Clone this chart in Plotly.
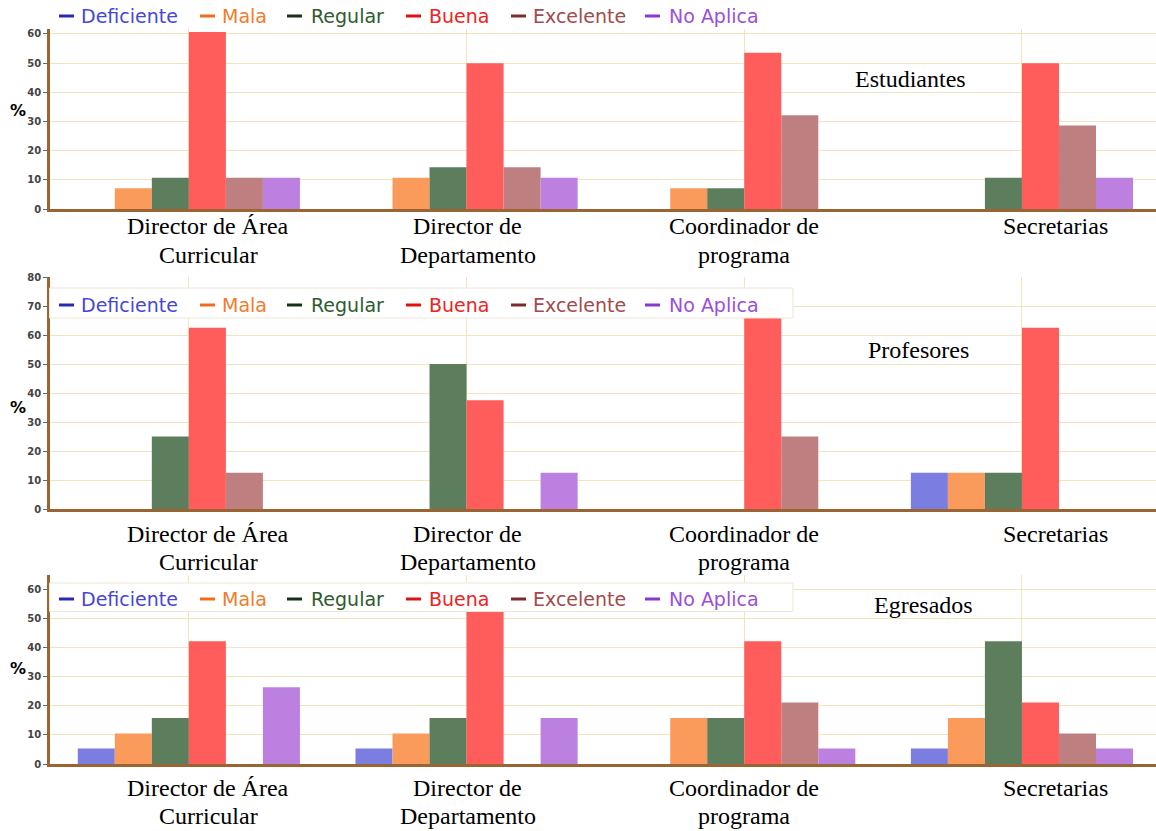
import plotly.graph_objects as go

# ---- data -------------------------------------------------------------
categories = ["Director de Área Curricular", "Director de Departamento",
              "Coordinador de programa", "Secretarias"]
category_labels = ["Director de Área<br>Curricular", "Director de<br>Departamento",
                   "Coordinador de<br>programa", "Secretarias"]
series_names = ["Deficiente", "Mala", "Regular", "Buena", "Excelente", "No Aplica"]
panel_titles = ["Estudiantes", "Profesores", "Egresados"]

# percentages per rating (rows follow series_names, columns follow categories)
estudiantes = [
    [0.0, 0.0, 0.0, 0.0],
    [7.1, 10.7, 7.1, 0.0],
    [10.7, 14.3, 7.1, 10.7],
    [60.7, 50.0, 53.6, 50.0],
    [10.7, 14.3, 32.1, 28.6],
    [10.7, 10.7, 0.0, 10.7],
]
profesores = [
    [0.0, 0.0, 0.0, 12.5],
    [0.0, 0.0, 0.0, 12.5],
    [25.0, 50.0, 0.0, 12.5],
    [62.5, 37.5, 75.0, 62.5],
    [12.5, 0.0, 25.0, 0.0],
    [0.0, 12.5, 0.0, 0.0],
]
egresados = [
    [5.3, 5.3, 0.0, 5.3],
    [10.5, 10.5, 15.8, 15.8],
    [15.8, 15.8, 15.8, 42.1],
    [42.1, 52.6, 42.1, 21.1],
    [0.0, 0.0, 21.1, 10.5],
    [26.3, 15.8, 5.3, 5.3],
]
y_ticks = [[0, 10, 20, 30, 40, 50, 60],
           [0, 10, 20, 30, 40, 50, 60, 70, 80],
           [0, 10, 20, 30, 40, 50, 60]]

# ---- styling ----------------------------------------------------------
W, H = 1156, 831
BAR_COLORS = ["#7b7de0", "#fa9b5b", "#5d7e5d", "#ff5c5c", "#bd7f7f", "#bb80e0"]
LEGEND_TEXT = ["#4646d6", "#f27c2c", "#2e5b2e", "#ee2222", "#a34a4a", "#9a4fd9"]
LEGEND_DASH = ["#2828b8", "#f26a1c", "#143214", "#e01010", "#7c2c2c", "#8a38d0"]
AXIS_BROWN = "#9b6533"
GRID = "#f4e4bb"
SERIF = "Liberation Serif"
SANS = "DejaVu Sans"


def px(x):
    return x / W


def py(y):
    return 1 - y / H


# pixel geometry of each panel
panels = [
    dict(top=29, bottom=209, ymax=61.7, legend_y=16, box=None,
         label_lines=(225, 254), title_xy=(910, 79), pct_y=110),
    dict(top=277, bottom=509, ymax=80, legend_y=305, box=(49.5, 288, 793, 318),
         label_lines=(533, 561), title_xy=(918, 350), pct_y=407),
    dict(top=575, bottom=764, ymax=64.8, legend_y=599, box=(49.5, 583, 793, 611.5),
         label_lines=(787, 815), title_xy=(923, 605), pct_y=668),
]
panel_data = [estudiantes, profesores, egresados]

PLOT_LEFT = 50
CAT_WIDTH = 277.7
x_range = [-0.5, -0.5 + (W - PLOT_LEFT) / CAT_WIDTH]
label_shift = [0.07, 0.005, 0.0, 0.12]

legend_dash_x = [59, 200, 287, 406, 511, 645]
legend_text_x = [79, 220, 309, 427, 531, 667]

fig = go.Figure()
shapes = []
annotations = []

for p, (geo, data) in enumerate(zip(panels, panel_data)):
    sfx = "" if p == 0 else str(p + 1)
    for s, name in enumerate(series_names):
        fig.add_trace(go.Bar(
            x=categories, y=data[s], name=name,
            marker=dict(color=BAR_COLORS[s], line=dict(width=0)),
            xaxis="x" + sfx, yaxis="y" + sfx, showlegend=False,
        ))

    fig.layout["xaxis" + sfx] = dict(
        domain=[px(PLOT_LEFT), 1], range=x_range, type="category",
        anchor="y" + sfx, showgrid=True, gridcolor=GRID, gridwidth=1,
        showticklabels=False, ticks="", showline=True, linecolor=AXIS_BROWN,
        linewidth=2.5, zeroline=False, fixedrange=True, automargin=False,
    )
    fig.layout["yaxis" + sfx] = dict(
        domain=[py(geo["bottom"]), py(geo["top"])], range=[0, geo["ymax"]],
        anchor="x" + sfx, tickvals=y_ticks[p], showgrid=True, gridcolor=GRID,
        gridwidth=1, showline=True, linecolor=AXIS_BROWN, linewidth=2.5,
        ticks="outside", ticklen=4, tickcolor="#666", tickwidth=1,
        tickfont=dict(family=SANS, size=10, color="#444", weight="bold"),
        zeroline=False, fixedrange=True, automargin=False,
    )

    # white backing box behind the legend row
    if geo["box"]:
        x0, y0, x1, y1 = geo["box"]
        shapes.append(dict(type="rect", xref="paper", yref="paper",
                           x0=px(x0), x1=px(x1), y0=py(y1), y1=py(y0),
                           fillcolor="white", line=dict(color="#efe6d4", width=1),
                           layer="above"))

    # legend row: coloured dash + coloured label
    ly = py(geo["legend_y"])
    for s, name in enumerate(series_names):
        shapes.append(dict(type="line", xref="paper", yref="paper",
                           x0=px(legend_dash_x[s]), x1=px(legend_dash_x[s] + 15),
                           y0=ly, y1=ly, line=dict(color=LEGEND_DASH[s], width=3),
                           layer="above"))
        annotations.append(dict(
            text=name, xref="paper", yref="paper", x=px(legend_text_x[s]), y=ly,
            xanchor="left", yanchor="middle", showarrow=False,
            font=dict(family=SANS, size=19, color=LEGEND_TEXT[s])))

    # category labels under the axis, one annotation per text line
    for c, lab in enumerate(category_labels):
        for line_text, centre in zip(lab.split("<br>"), geo["label_lines"]):
            annotations.append(dict(
                text=line_text, xref="x" + sfx, yref="paper", x=c + label_shift[c],
                y=py(centre - 14), xanchor="center", yanchor="top",
                showarrow=False, font=dict(family=SERIF, size=24, color="black")))

    # panel title
    tx, ty = geo["title_xy"]
    annotations.append(dict(
        text=panel_titles[p], xref="paper", yref="paper", x=px(tx), y=py(ty),
        xanchor="center", yanchor="middle", showarrow=False,
        font=dict(family=SERIF, size=24, color="black")))

    # y-axis unit
    annotations.append(dict(
        text="<b>%</b>", xref="paper", yref="paper", x=px(18), y=py(geo["pct_y"]),
        xanchor="center", yanchor="middle", showarrow=False,
        font=dict(family=SANS, size=16, color="black")))

fig.update_layout(
    width=W, height=H, margin=dict(l=0, r=0, t=0, b=0, autoexpand=False),
    paper_bgcolor="white", plot_bgcolor="white",
    barmode="group", bargap=0.2, bargroupgap=0,
    shapes=shapes, annotations=annotations, showlegend=False,
)

fig.write_html("out.html", config={"displayModeBar": False})
